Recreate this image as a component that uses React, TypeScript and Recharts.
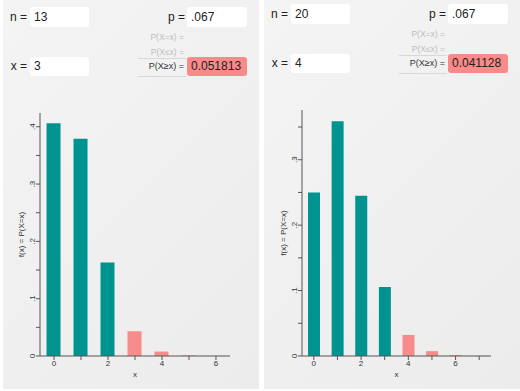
import React from 'react';
import { BarChart, Bar, XAxis, YAxis, Cell } from 'recharts';

// ---- data ----
const leftXs = [0, 1, 2, 3, 4, 5, 6];
const leftProbs = [0.406, 0.379, 0.163, 0.043, 0.0077, 0.001, 0.0001];
const rightXs = [0, 1, 2, 3, 4, 5, 6, 7];
const rightProbs = [0.2498, 0.3588, 0.2448, 0.1055, 0.0322, 0.0074, 0.0013, 0.0002];

const leftInputs = { n: '13', p: '.067', x: 3, result: '0.051813' };
const rightInputs = { n: '20', p: '.067', x: 4, result: '0.041128' };

const leftYTicks = [0, 0.05, 0.1, 0.15, 0.2, 0.25, 0.3, 0.35, 0.4];
const leftYLabels = ['0', '.1', '.2', '.3', '.4'];
const rightYTicks = [0, 0.05, 0.1, 0.15, 0.2, 0.25, 0.3, 0.35];
const rightYLabels = ['0', '.1', '.2', '.3'];
const leftXTicks = [0, 1, 2, 3, 4, 5, 6];
const rightXTicks = [0, 1, 2, 3, 4, 5, 6, 7];
const xLabelEvery = 2;

const TEAL = '#009490';
const SALMON = '#f88c8b';
const AXIS = '#555';
const FONT = '"Liberation Sans", Arial, Helvetica, sans-serif';

function fmtY(v: number) {
  if (v === 0) return '0';
  return ('' + Math.round(v * 10) / 10).replace(/^0/, '');
}

function makeYTick(labels: string[]) {
  return (props: any) => {
    const { x, y, payload } = props;
    const lab = fmtY(payload.value);
    const isMajor = Math.abs(payload.value * 10 - Math.round(payload.value * 10)) < 1e-6;
    if (!isMajor || !labels.includes(lab)) return <g />;
    return (
      <text
        transform={`translate(${x + 1},${y}) rotate(-90)`}
        textAnchor="middle"
        fontSize={8}
        fill="#333"
        fontFamily={FONT}
      >
        {lab}
      </text>
    );
  };
}

function XTick(props: any) {
  const { x, y, payload } = props;
  if (payload.value % xLabelEvery !== 0) return <g />;
  return (
    <text x={x} y={y + 4} textAnchor="middle" fontSize={8} fill="#333" fontFamily={FONT}>
      {payload.value}
    </text>
  );
}

function YTitle(props: any) {
  const vb = props.viewBox || {};
  const cx = (vb.x || 0) + 24;
  const cy = (vb.y || 0) + (vb.height || 0) / 2;
  return (
    <text
      transform={`translate(${cx},${cy}) rotate(-90)`}
      textAnchor="middle"
      fontSize={8}
      fill="#333"
      fontFamily={FONT}
    >
      f(x) = P(X=x)
    </text>
  );
}

function XTitle(props: any) {
  const vb = props.viewBox || {};
  const cx = (vb.x || 0) + (vb.width || 0) / 2;
  const cy = (vb.y || 0) + 21;
  return (
    <text x={cx} y={cy} textAnchor="middle" fontSize={8} fill="#333" fontFamily={FONT}>
      x
    </text>
  );
}

type ChartProps = {
  xs: number[];
  probs: number[];
  cut: number;
  xDomain: [number, number];
  yMax: number;
  yTicks: number[];
  yLabels: string[];
  xTicks: number[];
  barSize: number;
  left: number;
  top: number;
  plotRight: number;
};

function PmfChart(p: ChartProps) {
  const data = p.xs.map((x, i) => ({ x, prob: p.probs[i] }));
  const width = 260;
  const height = 391;
  return (
    <div style={{ position: 'absolute', left: p.left, top: 0, width, height }}>
      <BarChart
        width={width}
        height={height}
        data={data}
        margin={{ top: p.top, right: width - p.plotRight, bottom: 0, left: 0 }}
        barCategoryGap={0}
      >
        <XAxis
          type="number"
          dataKey="x"
          domain={p.xDomain}
          allowDataOverflow
          ticks={p.xTicks}
          interval={0}
          height={35}
          tickSize={4}
          tickMargin={2}
          stroke={AXIS}
          tick={<XTick />}
          label={<XTitle />}
        />
        <YAxis
          type="number"
          domain={[0, p.yMax]}
          allowDataOverflow
          ticks={p.yTicks}
          interval={0}
          width={40}
          tickSize={4}
          tickMargin={2}
          stroke={AXIS}
          tick={makeYTick(p.yLabels)}
          label={<YTitle />}
        />
        <Bar dataKey="prob" barSize={p.barSize} isAnimationActive={false}>
          {data.map((d, i) => (
            <Cell key={i} fill={d.x < p.cut ? TEAL : SALMON} />
          ))}
        </Bar>
      </BarChart>
    </div>
  );
}

type Box = { l: number; t: number; w: number; h: number };

function InputBox({ b, text, red }: { b: Box; text: string; red?: boolean }) {
  return (
    <div
      style={{
        position: 'absolute',
        left: b.l,
        top: b.t,
        width: b.w,
        height: b.h,
        background: red ? '#f88a89' : '#fff',
        borderRadius: 3,
        boxSizing: 'border-box',
        paddingLeft: 4,
        fontSize: 12,
        lineHeight: b.h + 'px',
        color: '#222',
        fontFamily: FONT,
      }}
    >
      {text}
    </div>
  );
}

function RLabel({ right, cy, text, size, color }: { right: number; cy: number; text: string; size: number; color: string }) {
  return (
    <div
      style={{
        position: 'absolute',
        left: right - 80,
        width: 80,
        top: cy - 8,
        height: 16,
        lineHeight: '16px',
        textAlign: 'right',
        fontSize: size,
        color,
        fontFamily: FONT,
        whiteSpace: 'nowrap',
      }}
    >
      {text}
    </div>
  );
}

function HLine({ l, r, y }: { l: number; r: number; y: number }) {
  return <div style={{ position: 'absolute', left: l, top: y, width: r - l, height: 1, background: '#d8d8d8' }} />;
}

function Header({ inp, ox, oy }: { inp: { n: string; p: string; x: number; result: string }; ox: number; oy: number }) {
  return (
    <>
      <RLabel right={ox + 27} cy={oy + 17} text="n =" size={12} color="#222" />
      <InputBox b={{ l: ox + 30, t: oy + 7, w: 59, h: 20 }} text={inp.n} />
      <RLabel right={ox + 185} cy={oy + 17} text="p =" size={12} color="#222" />
      <InputBox b={{ l: ox + 187, t: oy + 7, w: 60, h: 20 }} text={inp.p} />
      <RLabel right={ox + 184} cy={oy + 37} text="P(X=x) =" size={8.5} color="#bdbdbd" />
      <RLabel right={ox + 184} cy={oy + 52} text="P(X≤x) =" size={8.5} color="#bdbdbd" />
      <HLine l={ox + 138} r={ox + 186} y={oy + 58} />
      <RLabel right={ox + 27} cy={oy + 66} text="x =" size={12} color="#222" />
      <InputBox b={{ l: ox + 30, t: oy + 57, w: 59, h: 19 }} text={String(inp.x)} />
      <RLabel right={ox + 184} cy={oy + 66} text="P(X≥x) =" size={9} color="#333" />
      <InputBox b={{ l: ox + 187, t: oy + 57, w: 60, h: 19 }} text={inp.result} red />
      <HLine l={ox + 138} r={ox + 186} y={oy + 76} />
    </>
  );
}

export default function App() {
  return (
    <div
      style={{
        position: 'fixed',
        left: 0,
        top: 0,
        width: 520,
        height: 391,
        background: '#fff',
        overflow: 'hidden',
        fontFamily: FONT,
      }}
    >
      <div style={{ position: 'absolute', left: 3, top: 0, width: 256, height: 389, background: 'linear-gradient(135deg, #f4f4f4, #ececec)' }} />
      <div style={{ position: 'absolute', left: 264, top: 0, width: 256, height: 389, background: 'linear-gradient(135deg, #f4f4f4, #ececec)' }} />

      <Header inp={leftInputs} ox={0} oy={0} />
      <Header inp={rightInputs} ox={261} oy={-3} />

      <PmfChart
        xs={leftXs}
        probs={leftProbs}
        cut={leftInputs.x}
        xDomain={[-0.52, 6.52]}
        yMax={0.424}
        yTicks={leftYTicks}
        yLabels={leftYLabels}
        xTicks={leftXTicks}
        barSize={14}
        left={0}
        top={113}
        plotRight={230}
      />
      <PmfChart
        xs={rightXs}
        probs={rightProbs}
        cut={rightInputs.x}
        xDomain={[-0.5, 7.5]}
        yMax={0.376}
        yTicks={rightYTicks}
        yLabels={rightYLabels}
        xTicks={rightXTicks}
        barSize={12}
        left={262}
        top={110}
        plotRight={229}
      />
    </div>
  );
}
